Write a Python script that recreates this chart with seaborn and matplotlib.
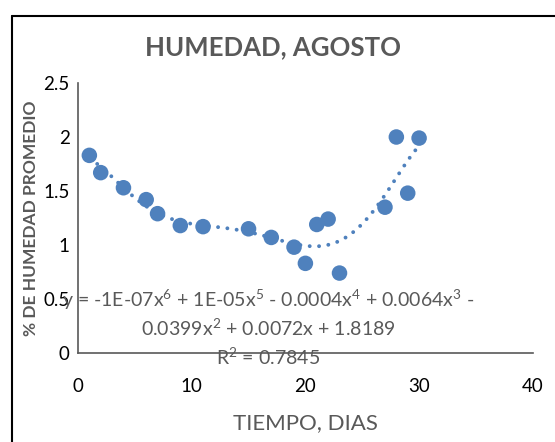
import numpy as np
import pandas as pd
import matplotlib
matplotlib.use("Agg")
import matplotlib.pyplot as plt
import seaborn as sns

# data
dias = [1, 2, 4, 6, 7, 9, 11, 15, 17, 19, 20, 21, 22, 23, 27, 28, 29, 30]
humedad = [1.83, 1.67, 1.53, 1.42, 1.29, 1.18, 1.17, 1.15, 1.07, 0.98,
           0.83, 1.19, 1.24, 0.74, 1.35, 2.00, 1.48, 1.99]
x_ticks = [0, 10, 20, 30, 40]
y_ticks = [0, 0.5, 1, 1.5, 2, 2.5]
titulo = "HUMEDAD, AGOSTO"
eq_text = ("y = -1E-07x$^6$ + 1E-05x$^5$ - 0.0004x$^4$ + 0.0064x$^3$ -\n"
           "0.0399x$^2$ + 0.0072x + 1.8189")
r2_text = "R$^2$ = 0.7845"

df = pd.DataFrame({"dias": dias, "humedad": humedad})

sns.set_style("white")
plt.rcParams['font.family'] = ['Lato', 'DejaVu Sans']
plt.rcParams['mathtext.fontset'] = 'custom'
plt.rcParams['mathtext.rm'] = 'Lato'

blue = "#4F81BD"
grey = "#595959"

fig = plt.figure(figsize=(5.55, 4.42), dpi=100)
ax = fig.add_axes([0.1405, 0.2014, 0.8195, 0.6108])

sns.regplot(data=df, x="dias", y="humedad", order=6, ci=None, scatter=False,
            truncate=True, ax=ax,
            line_kws=dict(color=blue, linestyle=(0, (0.01, 2.4)), linewidth=2.8,
                          dash_capstyle="round", zorder=2))
sns.scatterplot(data=df, x="dias", y="humedad", color=blue, s=125,
                edgecolor="none", ax=ax, zorder=3)

ax.set_xlim(0, 40)
ax.set_ylim(0, 2.5)
ax.set_xticks(x_ticks)
ax.set_yticks(y_ticks)
ax.set_xticklabels([str(t) for t in x_ticks])
ax.set_yticklabels(["0", "0.5", "1", "1.5", "2", "2.5"])
ax.tick_params(axis="both", length=0, labelsize=13.5, colors="black", pad=6)
ax.tick_params(axis="x", pad=18)

sns.despine(ax=ax)
for s in ["left", "bottom"]:
    ax.spines[s].set_color(grey)
    ax.spines[s].set_linewidth(1.2)

ax.set_xlabel("TIEMPO, DIAS", fontsize=16, color=grey, labelpad=13)
ax.set_ylabel("% DE HUMEDAD PROMEDIO", fontsize=12.5, color=grey,
              fontweight="bold", labelpad=2)
ax.yaxis.set_label_coords(-0.085, 0.5)

fig.text(0.492, 0.893, titulo, ha="center", va="center", fontsize=18.5,
         fontweight="bold", color=grey)

fig.text(0.483, 0.292, eq_text, ha="center", va="center", fontsize=14,
         color=grey, linespacing=1.25)
fig.text(0.483, 0.193, r2_text, ha="center", va="center", fontsize=14,
         color=grey)

# chart border (partly cropped in the original)
fig.add_artist(plt.Line2D([0.022, 0.022], [0, 0.964], color="black", lw=1.5))
fig.add_artist(plt.Line2D([0.022, 1], [0.964, 0.964], color="black", lw=1.5))

fig.savefig("out.png", dpi=100)
